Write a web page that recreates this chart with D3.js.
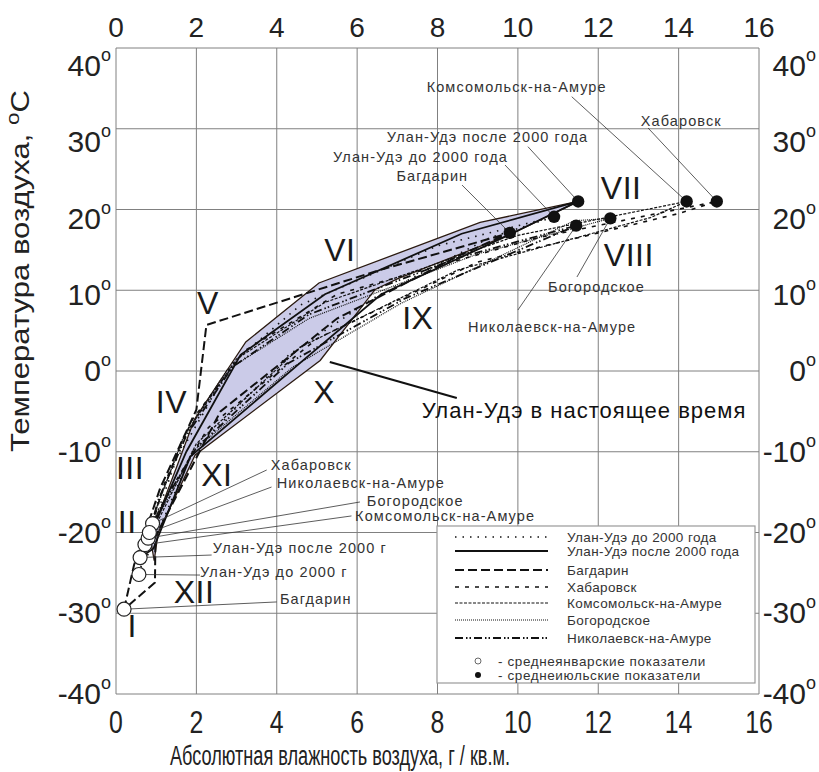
<!DOCTYPE html>
<html>
<head>
<meta charset="utf-8">
<script src="https://cdn.jsdelivr.net/npm/d3@7"></script>
<style>
body { margin: 0; background: #fff; }
svg text { font-family: "Liberation Sans", Arial, sans-serif; fill: #222; }
</style>
</head>
<body>
<svg id="chart" width="819" height="772"></svg>
<script>
// Month names (roman numerals)
const months = ['I', 'II', 'III', 'IV', 'V', 'VI', 'VII', 'VIII', 'IX', 'X', 'XI', 'XII'];

// Ticks
const xTicks = [0, 2, 4, 6, 8, 10, 12, 14, 16];
const yTicks = [-40, -30, -20, -10, 0, 10, 20, 30, 40];

// Monthly humidity (g/m3) and temperature (°C), I..XII
const uuBeforeX = [0.57, 0.85, 1.5, 2.9, 4.6, 8.0, 10.9, 9.3, 6.4, 4.3, 1.9, 0.95];
const uuBeforeT = [-25.2, -20, -11, 1, 8.2, 15.5, 19.1, 16.5, 9, 2, -10, -21];
const uuAfterX = [0.6, 0.92, 1.75, 3.1, 5.2, 8.6, 11.5, 9.8, 6.6, 4.7, 1.85, 0.93];
const uuAfterT = [-23.1, -19.5, -10, 2, 9.5, 17, 21, 16.9, 9.5, 1.5, -10.6, -22];
const bagdarinX = [0.2, 0.45, 1.1, 2.0, 2.25, 6.5, 9.8, 8.5, 5.5, 2.6, 0.98, 0.97];
const bagdarinT = [-29.5, -24, -14.5, -4.8, 5.7, 12.4, 17.1, 14.2, 6.5, -5, -20.5, -26.2];
const khabarovskX = [0.91, 1.2, 1.9, 3.2, 5.5, 10.5, 14.95, 14.0, 9.0, 5.0, 2.3, 1.2];
const khabarovskT = [-18.9, -14, -6, 2.5, 9.5, 16.5, 21, 19.5, 13.5, 4, -7, -16];
const komsomolskX = [0.72, 1.0, 1.7, 3.0, 5.2, 10.0, 14.2, 13.3, 8.5, 4.6, 2.0, 1.05];
const komsomolskT = [-21.5, -17, -8, 1.5, 8.5, 16.8, 21, 19, 12.5, 3, -9, -18.5];
const bogorodskoeX = [0.8, 1.05, 1.65, 2.76, 4.8, 9.0, 12.3, 11.4, 7.1, 4.4, 1.95, 1.1];
const bogorodskoeT = [-20.7, -16.5, -8.5, 0.1, 6.5, 14.5, 18.9, 18.6, 8.4, 0.5, -9.8, -17.5];
const nikolaevskX = [0.83, 1.05, 1.75, 2.9, 4.8, 8.5, 11.45, 10.6, 7.2, 4.3, 2.0, 1.1];
const nikolaevskT = [-20, -16, -8, 0.5, 7, 14, 18, 16.2, 9, 1, -9.5, -17];

// Envelope of Ulan-Ude at present (shaded area)
const nowX = [0.85, 1.5, 1.95, 2.75, 3.23, 5.05, 9.06, 11.5, 9.8, 7.0, 6.45, 5.08, 1.97, 1.05, 0.95];
const nowT = [-20.5, -12, -6, 0, 3.6, 10.9, 18.4, 21, 16.9, 11.4, 10.1, 1.3, -10.4, -20, -23.5];

const seriesNames = ['Улан-Удэ до 2000 года', 'Улан-Удэ после 2000 года', 'Багдарин', 'Хабаровск',
    'Комсомольск-на-Амуре', 'Богородское', 'Николаевск-на-Амуре'];

const series = [
    { name: seriesNames[0], xs: uuBeforeX, ts: uuBeforeT, dash: '1.5,6', w: 1.6 },
    { name: seriesNames[1], xs: uuAfterX, ts: uuAfterT, dash: null, w: 1.8 },
    { name: seriesNames[2], xs: bagdarinX, ts: bagdarinT, dash: '9,4', w: 2 },
    { name: seriesNames[3], xs: khabarovskX, ts: khabarovskT, dash: '4,6', w: 1.6 },
    { name: seriesNames[4], xs: komsomolskX, ts: komsomolskT, dash: '3,1.5', w: 1.2 },
    { name: seriesNames[5], xs: bogorodskoeX, ts: bogorodskoeT, dash: '1,1', w: 1.2 },
    { name: seriesNames[6], xs: nikolaevskX, ts: nikolaevskT, dash: '8,3,1.5,2,1.5,3', w: 1.8 }
];

// Label anchors for the month numerals (data units)
const monthLabelX = [0.4, 0.28, 0.35, 1.38, 2.29, 5.57, 12.57, 12.76, 7.51, 5.18, 2.51, 1.94];
const monthLabelT = [-31.6, -18.7, -12, -3.8, 8.4, 15, 22.7, 14.4, 6.6, -2.6, -12.9, -27.4];

// July annotations: text anchor and leader start (data units), index into series
const julyLabels = [
    { s: 4, tx: 7.73, tt: 35.17, lx: 11.34, lt: 33.97 },
    { s: 3, tx: 13.06, tt: 30.96, lx: 13.24, lt: 30.09 },
    { s: 1, tx: 6.74, tt: 28.98, lx: 10.25, lt: 27.78, text: 'Улан-Удэ после 2000 года' },
    { s: 0, tx: 5.4, tt: 26.5, lx: 9.68, lt: 25.51, text: 'Улан-Удэ до 2000 года' },
    { s: 2, tx: 6.98, tt: 24.15, lx: 8.61, lt: 23.03 },
    { s: 5, tx: 10.75, tt: 10.4, lx: 11.47, lt: 11.64 },
    { s: 6, tx: 8.76, tt: 5.45, lx: 10.0, lt: 7.55 }
];
const janLabels = [
    { s: 3, tx: 3.85, tt: -11.64, lx: 3.75, lt: -12.26 },
    { s: 6, tx: 4.0, tt: -13.87, lx: 3.87, lt: -14.37 },
    { s: 5, tx: 6.24, tt: -16.05, lx: 6.07, lt: -16.22 },
    { s: 4, tx: 5.95, tt: -17.98, lx: 5.86, lt: -17.95 },
    { s: 1, tx: 2.41, tt: -21.96, lx: 2.38, lt: -22.79, text: 'Улан-Удэ после 2000 г' },
    { s: 0, tx: 2.09, tt: -24.85, lx: 2.09, lt: -25.27, text: 'Улан-Удэ до 2000 г' },
    { s: 2, tx: 4.08, tt: -28.24, lx: 4.0, lt: -28.6 }
];

const svg = d3.select('#chart');
const x = d3.scaleLinear().domain([0, 16]).range([116, 759]);
const y = d3.scaleLinear().domain([-40, 40]).range([694, 48]);

// Grid
const grid = svg.append('g');
grid.selectAll('.vx').data(xTicks).enter().append('line')
    .attr('x1', d => x(d)).attr('x2', d => x(d))
    .attr('y1', y(40)).attr('y2', y(-40))
    .attr('stroke', '#808080').attr('stroke-width', 1);
grid.selectAll('.hy').data(yTicks).enter().append('line')
    .attr('x1', x(0)).attr('x2', x(16))
    .attr('y1', d => y(d)).attr('y2', d => y(d))
    .attr('stroke', '#808080').attr('stroke-width', 1);

// Top tick labels
svg.append('g').selectAll('text').data(xTicks).enter().append('text')
    .attr('x', d => x(d)).attr('y', 37)
    .attr('text-anchor', 'middle').style('font-size', '28px')
    .text(d => d);
// Bottom tick labels (condensed)
svg.append('g').selectAll('text').data(xTicks).enter().append('text')
    .attr('transform', d => `translate(${x(d)},733) scale(0.8,1)`)
    .attr('text-anchor', 'middle').style('font-size', '31px')
    .text(d => d);

// Left and right tick labels with degree sign
function degLabel(g, xpos) {
    const t = g.selectAll('text').data(yTicks).enter().append('text')
        .attr('x', xpos)
        .attr('y', d => y(d) + 10 + (d > 0 ? d * 0.45 : 0))
        .attr('text-anchor', 'end').style('font-size', '30px');
    t.append('tspan').text(d => d);
    t.append('tspan').attr('dy', -15).style('font-size', '18px').text('o');
}
degLabel(svg.append('g'), 111);
degLabel(svg.append('g'), 816);

// Axis titles
svg.append('text')
    .attr('x', 170).attr('y', 765)
    .attr('textLength', 340).attr('lengthAdjust', 'spacingAndGlyphs')
    .style('font-size', '27px')
    .text('Абсолютная влажность воздуха, г / кв.м.');
const yt = svg.append('text')
    .attr('transform', 'translate(29,452) rotate(-90)')
    .attr('textLength', 362).attr('lengthAdjust', 'spacingAndGlyphs')
    .style('font-size', '25px');
yt.append('tspan').text('Температура воздуха, ');
yt.append('tspan').attr('dy', -10).style('font-size', '18px').text('o');
yt.append('tspan').attr('dy', 10).text('C');

// Shaded area
const area = d3.line().x(d => x(d[0])).y(d => y(d[1])).curve(d3.curveLinearClosed);
svg.append('path')
    .attr('d', area(nowX.map((v, i) => [v, nowT[i]])))
    .attr('fill', '#cbcbe8').attr('stroke', '#2a1a10').attr('stroke-width', 1.3);

// Series loops
const loop = d3.line().x(d => x(d[0])).y(d => y(d[1])).curve(d3.curveLinearClosed);
svg.append('g').selectAll('path').data(series).enter().append('path')
    .attr('d', s => loop(s.xs.map((v, i) => [v, s.ts[i]])))
    .attr('fill', 'none').attr('stroke', '#111')
    .attr('stroke-width', s => s.w)
    .attr('stroke-dasharray', s => s.dash);

// Pointer to the shaded area
svg.append('line')
    .attr('x1', x(5.32)).attr('y1', y(1.12)).attr('x2', x(8.48)).attr('y2', y(-3.34))
    .attr('stroke', '#111').attr('stroke-width', 2.2);
svg.append('text').attr('x', x(7.61)).attr('y', y(-4.83)).attr('dy', '0.35em')
    .style('font-size', '22px').style('letter-spacing', '1px').style('fill', '#111')
    .text('Улан-Удэ в настоящее время');

// Leaders and annotation labels
function annotate(list, monthIdx) {
    const g = svg.append('g');
    g.selectAll('line').data(list).enter().append('line')
        .attr('x1', d => x(d.lx)).attr('y1', d => y(d.lt))
        .attr('x2', d => x(series[d.s].xs[monthIdx])).attr('y2', d => y(series[d.s].ts[monthIdx]))
        .attr('stroke', '#333').attr('stroke-width', 0.8);
    g.selectAll('text').data(list).enter().append('text')
        .attr('x', d => x(d.tx)).attr('y', d => y(d.tt)).attr('dy', '0.35em')
        .style('font-size', '14.5px').style('letter-spacing', '1.1px').style('fill', '#333')
        .text(d => d.text || series[d.s].name);
}
annotate(julyLabels, 6);
annotate(janLabels, 0);

// January (open) and July (filled) markers
svg.append('g').selectAll('circle').data(series).enter().append('circle')
    .attr('cx', s => x(s.xs[0])).attr('cy', s => y(s.ts[0])).attr('r', 7)
    .attr('fill', '#fff').attr('stroke', '#222').attr('stroke-width', 1.2);
svg.append('g').selectAll('circle').data(series).enter().append('circle')
    .attr('cx', s => x(s.xs[6])).attr('cy', s => y(s.ts[6])).attr('r', 6.2)
    .attr('fill', '#111');

// Month numerals
svg.append('g').selectAll('text').data(months).enter().append('text')
    .attr('x', (d, i) => x(monthLabelX[i])).attr('y', (d, i) => y(monthLabelT[i]))
    .attr('dy', '0.35em').attr('text-anchor', 'middle')
    .style('font-size', '32px').style('letter-spacing', '0.5px').style('fill', '#1a1a1a')
    .text(d => d);

// Legend
const legend = svg.append('g').attr('transform', 'translate(437,526)');
legend.append('rect').attr('width', 318).attr('height', 157)
    .attr('fill', '#fff').attr('stroke', '#999').attr('stroke-width', 1.2);
const rowY = [11, 25, 44, 61, 77, 94, 112];
const items = legend.selectAll('.item').data(series).enter().append('g')
    .attr('transform', (d, i) => `translate(0,${rowY[i]})`);
items.append('line').attr('x1', 18).attr('x2', 111)
    .attr('stroke', '#111').attr('stroke-width', d => d.w)
    .attr('stroke-dasharray', d => d.dash);
items.append('text').attr('x', 130).attr('dy', '0.35em')
    .style('font-size', '13.5px').style('letter-spacing', '0.4px').style('fill', '#333')
    .text(d => d.name);
legend.append('circle').attr('cx', 41).attr('cy', 135).attr('r', 3)
    .attr('fill', '#fff').attr('stroke', '#444').attr('stroke-width', 0.8);
legend.append('circle').attr('cx', 41).attr('cy', 149).attr('r', 3).attr('fill', '#111');
legend.append('text').attr('x', 61).attr('y', 135).attr('dy', '0.35em')
    .style('font-size', '13.5px').style('letter-spacing', '0.6px').style('fill', '#333')
    .text('-  среднеянварские показатели');
legend.append('text').attr('x', 61).attr('y', 149).attr('dy', '0.35em')
    .style('font-size', '13.5px').style('letter-spacing', '0.6px').style('fill', '#333')
    .text('-  среднеиюльские показатели');
</script>
</body>
</html>
